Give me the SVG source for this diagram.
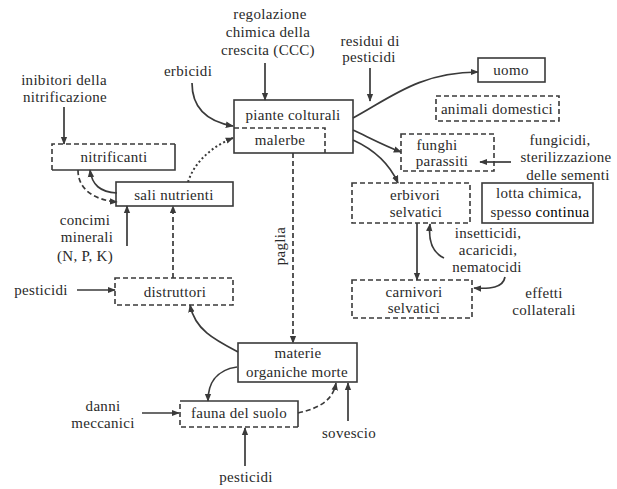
<svg xmlns="http://www.w3.org/2000/svg" width="617" height="489" viewBox="0 0 617 489">
  <style>
    text { font-family: "Liberation Serif", "DejaVu Serif", serif; font-size: 15px; fill: #2a2a2a; text-anchor: middle; letter-spacing: 0.3px; }
    .box { fill: none; stroke: #3a3a3a; stroke-width: 1.6; }
    .dbox { fill: none; stroke: #3a3a3a; stroke-width: 1.6; stroke-dasharray: 5 3; }
    .ln { fill: none; stroke: #3a3a3a; stroke-width: 1.7; marker-end: url(#ah); }
    .dash { stroke-dasharray: 5 3; }
    .dot { stroke-dasharray: 2 2.5; stroke-width: 2; }
  </style>
  <defs>
    <marker id="ah" viewBox="0 0 10 10" refX="9" refY="5" markerWidth="8" markerHeight="8" markerUnits="userSpaceOnUse" orient="auto">
      <path d="M0,1 L10,5 L0,9 Z" fill="#3a3a3a"/>
    </marker>
  </defs>
  <rect width="617" height="489" fill="#ffffff"/>

  <!-- connectors -->
  <g id="connectors">
    <path class="ln" d="M265,63 L265,100"/>
    <path class="ln" d="M370,68 L370,101"/>
    <path class="ln" d="M353,118 C390,98 420,72 478,72"/>
    <path class="ln" d="M192,83 C192,110 210,122 233,126"/>
    <path class="ln" d="M353,130 C370,138 385,146 401,152"/>
    <path class="ln" d="M353,140 C375,150 390,165 398,183"/>
    <path class="ln" d="M511,162 L480,162"/>
    <path class="ln" d="M444,258 C433,253 428,242 430,224"/>
    <path class="ln" d="M417,223 L417,280"/>
    <path class="ln" d="M505,277 C503,288 490,289 474,288"/>
    <path class="ln" d="M64,107 L64,144"/>
    <path class="ln" d="M117,193 C100,192 92,185 90,170"/>
    <path class="ln dash" d="M78,170 C78,190 95,200 117,202"/>
    <path class="ln" d="M127,246 L127,206"/>
    <path class="ln dash" d="M173,278 L173,206"/>
    <path class="ln dot" d="M188,182 C195,160 215,145 233,138"/>
    <path class="ln" d="M77,290 L115,290"/>
    <path class="ln dash" d="M293,153 L293,343"/>
    <path class="ln" d="M238,352 C215,340 195,330 190,305"/>
    <path class="ln" d="M237,367 C215,370 208,385 208,401"/>
    <path class="ln dash" d="M298,413 C320,408 333,400 336,383"/>
    <path class="ln" d="M348,421 L348,383"/>
    <path class="ln" d="M142,413 L179,413"/>
    <path class="ln" d="M245,466 L245,428"/>
    <text x="285" y="246" transform="rotate(-90 285 246)">paglia</text>
  </g>

  <!-- free labels -->
  <g id="labels">
    <text x="270" y="19">regolazione</text>
    <text x="268" y="37">chimica della</text>
    <text x="268" y="55">crescita (CCC)</text>
    <text x="370" y="46">residui di</text>
    <text x="369" y="62">pesticidi</text>
    <text x="188" y="76">erbicidi</text>
    <text x="64" y="85">inibitori della</text>
    <text x="65" y="102">nitrificazione</text>
    <text x="560" y="145">fungicidi,</text>
    <text x="566" y="162">sterilizzazione</text>
    <text x="568" y="180">delle sementi</text>
    <text x="488" y="238">insetticidi,</text>
    <text x="488" y="255">acaricidi,</text>
    <text x="487" y="272">nematocidi</text>
    <text x="544" y="298">effetti</text>
    <text x="544" y="315">collaterali</text>
    <text x="85" y="225">concimi</text>
    <text x="87" y="242">minerali</text>
    <text x="85" y="261">(N, P, K)</text>
    <text x="41" y="295">pesticidi</text>
    <text x="103" y="411">danni</text>
    <text x="103" y="428">meccanici</text>
    <text x="349" y="438">sovescio</text>
    <text x="246" y="482">pesticidi</text>
  </g>

  <!-- nodes -->
  <g id="piante">
    <rect class="box" x="234" y="100" width="119" height="53"/>
    <path class="dbox" d="M234,128 L325,128 L325,153"/>
    <text x="293" y="120">piante colturali</text>
    <text x="280" y="145">malerbe</text>
  </g>
  <g id="uomo">
    <rect class="box" x="478" y="58" width="67" height="24"/>
    <text x="511" y="75">uomo</text>
  </g>
  <g id="animali">
    <rect class="dbox" x="436" y="96" width="123" height="25"/>
    <text x="497" y="114">animali domestici</text>
  </g>
  <g id="funghi">
    <rect class="dbox" x="401" y="134" width="93" height="37"/>
    <text x="437" y="150">funghi</text>
    <text x="442" y="166">parassiti</text>
  </g>
  <g id="erbivori">
    <rect class="dbox" x="352" y="183" width="118" height="40"/>
    <text x="415" y="200">erbivori</text>
    <text x="416" y="217">selvatici</text>
  </g>
  <g id="lotta">
    <rect class="box" x="482" y="183" width="111" height="40"/>
    <text x="539" y="198">lotta chimica,</text>
    <text x="540" y="217">spess<tspan fill="#000">o continua</tspan></text>
  </g>
  <g id="carnivori">
    <rect class="dbox" x="352" y="280" width="120" height="38"/>
    <text x="414" y="297">carnivori</text>
    <text x="414" y="313">selvatici</text>
  </g>
  <g id="nitrificanti">
    <path class="dbox" d="M52,170 L52,144 L175,144"/>
    <path class="box" d="M175,144 L175,170 L52,170"/>
    <text x="114" y="162">nitrificanti</text>
  </g>
  <g id="sali">
    <rect class="box" x="116" y="182" width="117" height="24"/>
    <text x="174" y="200">sali nutrienti</text>
  </g>
  <g id="distruttori">
    <rect class="dbox" x="115" y="278" width="118" height="27"/>
    <text x="175" y="297">distruttori</text>
  </g>
  <g id="materie">
    <rect class="box" x="238" y="343" width="119" height="39"/>
    <text x="298" y="358">materie</text>
    <text x="297" y="377">organiche morte</text>
  </g>
  <g id="fauna">
    <path class="box" d="M180,401 L298,401 L298,427"/>
    <path class="dbox" d="M298,427 L180,427 L180,401"/>
    <text x="239" y="418">fauna del suolo</text>
  </g>
</svg>
